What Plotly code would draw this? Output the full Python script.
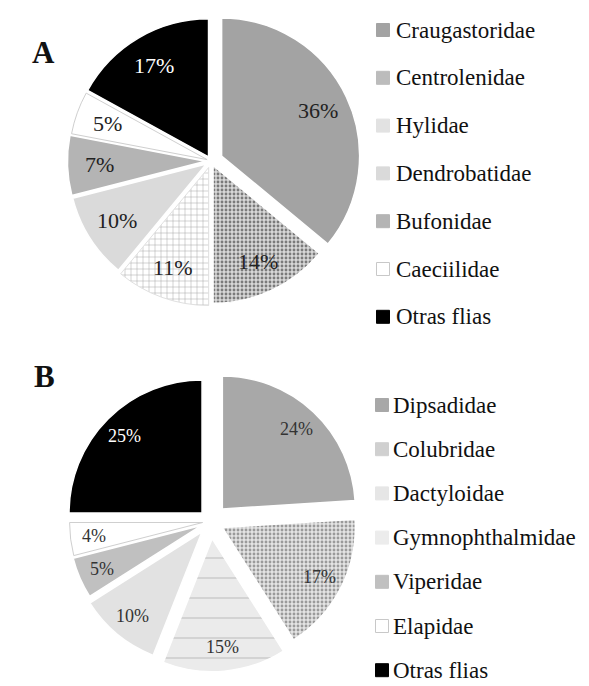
import math
import plotly.graph_objects as go

# ---------------- data ----------------
labels_a = ["Craugastoridae", "Centrolenidae", "Hylidae", "Dendrobatidae",
            "Bufonidae", "Caeciilidae", "Otras flias"]
values_a = [36, 14, 11, 10, 7, 5, 17]

labels_b = ["Dipsadidae", "Colubridae", "Dactyloidae", "Gymnophthalmidae",
            "Viperidae", "Elapidae", "Otras flias"]
values_b = [24, 17, 15, 10, 5, 4, 25]

panel_labels = ["A", "B"]

# ---------------- styles ----------------
FONT = "Liberation Serif, Times New Roman, serif"

colors_a = ["#a3a3a3", "#d0d0d0", "#ffffff", "#dadada", "#b4b4b4", "#ffffff", "#000000"]
pat_shape_a = ["", ".", "+", "", "", "", ""]
pat_fg_a = ["#a3a3a3", "#7a7a7a", "#a0a0a0", "#dadada", "#b4b4b4", "#ffffff", "#000000"]
pat_bg_a = ["#a3a3a3", "#d8d8d8", "#ffffff", "#dadada", "#b4b4b4", "#ffffff", "#000000"]
pat_size_a = [8, 4, 6, 8, 8, 8, 8]
pat_sol_a = [0.3, 0.4, 0.15, 0.3, 0.3, 0.3, 0.3]
pull_a = [0.085, 0.035, 0.05, 0.04, 0.04, 0.03, 0.035]
edge_a = ["white", "white", "#e0e0e0", "white", "white", "#cfcfcf", "white"]
txtcol_a = ["#222", "#222", "#222", "#222", "#222", "#222", "#ffffff"]
legcol_a = ["#a3a3a3", "#bcbcbc", "#e2e2e2", "#dadada", "#b4b4b4", "#ffffff", "#000000"]

colors_b = ["#a8a8a8", "#e2e2e2", "#ebebeb", "#e2e2e2", "#c0c0c0", "#ffffff", "#000000"]
pat_shape_b = ["", ".", "-", "", "", "", ""]
pat_fg_b = ["#a8a8a8", "#9a9a9a", "#c4c4c4", "#e2e2e2", "#c0c0c0", "#ffffff", "#000000"]
pat_bg_b = ["#a8a8a8", "#e4e4e4", "#ebebeb", "#e2e2e2", "#c0c0c0", "#ffffff", "#000000"]
pat_size_b = [8, 4, 20, 8, 8, 8, 8]
pat_sol_b = [0.3, 0.4, 0.06, 0.3, 0.3, 0.3, 0.3]
pull_b = [0.13, 0.1, 0.13, 0.1, 0.07, 0.06, 0.09]
edge_b = ["white", "white", "white", "white", "white", "#cfcfcf", "white"]
txtcol_b = ["#333", "#333", "#333", "#333", "#333", "#333", "#ffffff"]
legcol_b = ["#a8a8a8", "#d0d0d0", "#e6e6e6", "#ececec", "#c0c0c0", "#ffffff", "#000000"]

# The page body has an 8 px margin, so the figure is drawn 8 px in from the window corner.
OFF = 8
W, H = 589 - OFF, 686 - OFF


def px(x):
    return (x - OFF) / W


def py(y):
    return 1 - (y - OFF) / H


shapes = []
annotations = []
fig = go.Figure()


def add_pie(labels, values, pulls, colors, pshape, pfg, pbg, psize, psol, edges,
            txtcols, cx, cy, r, frac, fsize):
    rd = r * (1 + max(pulls))  # plotly shrinks r by (1 + max pull)
    fig.add_trace(go.Pie(
        labels=labels, values=values, sort=False, direction="clockwise", rotation=0,
        pull=pulls,
        domain=dict(x=[px(cx - rd), px(cx + rd)], y=[py(cy + rd), py(cy - rd)]),
        marker=dict(colors=colors,
                    line=dict(color=edges, width=[1 if e != "white" else 1.5 for e in edges]),
                    pattern=dict(shape=pshape, fgcolor=pfg, bgcolor=pbg,
                                 size=psize, solidity=psol)),
        textinfo="none", showlegend=False, hoverinfo="label+value",
    ))
    # percentage labels, placed along each slice's mid angle
    total = float(sum(values))
    cum = 0.0
    for v, pl, tc in zip(values, pulls, txtcols):
        mid = (cum + v / 2) / total * 2 * math.pi
        cum += v
        d = (pl + frac) * r
        x = cx + d * math.sin(mid)
        y = cy - d * math.cos(mid)
        annotations.append(dict(text="%d%%" % v, xref="paper", yref="paper",
                                x=px(x), y=py(y), xanchor="center", yanchor="middle",
                                showarrow=False,
                                font=dict(family=FONT, size=fsize, color=tc)))


add_pie(labels_a, values_a, pull_a, colors_a, pat_shape_a, pat_fg_a, pat_bg_a,
        pat_size_a, pat_sol_a, edge_a, txtcol_a, cx=211, cy=161, r=138, frac=0.77, fsize=22)
add_pie(labels_b, values_b, pull_b, colors_b, pat_shape_b, pat_fg_b, pat_bg_b,
        pat_size_b, pat_sol_b, edge_b, txtcol_b, cx=210.5, cy=521.5, r=133, frac=0.82, fsize=18)


def add_legend(labels, cols, y_first, y_step, sq_x, txt_x):
    s = 13
    for i, (lab, col) in enumerate(zip(labels, cols)):
        yc = y_first + i * y_step
        shapes.append(dict(type="rect", xref="paper", yref="paper",
                           x0=px(sq_x - s / 2), x1=px(sq_x + s / 2),
                           y0=py(yc + s / 2), y1=py(yc - s / 2),
                           fillcolor=col,
                           line=dict(color="#c8c8c8" if col == "#ffffff" else col, width=1)))
        annotations.append(dict(text=lab, xref="paper", yref="paper",
                                x=px(txt_x), y=py(yc), xanchor="left", yanchor="middle",
                                showarrow=False,
                                font=dict(family=FONT, size=23, color="#111")))


add_legend(labels_a, legcol_a, 30, 47.8, 383, 394)
add_legend(labels_b, legcol_b, 405, 44.2, 382, 391)

for lab, (lx, ly) in zip(panel_labels, [(43, 52), (44, 377)]):
    annotations.append(dict(text="<b>%s</b>" % lab, xref="paper", yref="paper",
                            x=px(lx), y=py(ly), xanchor="center", yanchor="middle",
                            showarrow=False, font=dict(family=FONT, size=31, color="#111")))

fig.update_layout(
    width=W, height=H, margin=dict(l=0, r=0, t=0, b=0),
    paper_bgcolor="white", plot_bgcolor="white",
    shapes=shapes, annotations=annotations,
)

fig.write_html("out.html")
